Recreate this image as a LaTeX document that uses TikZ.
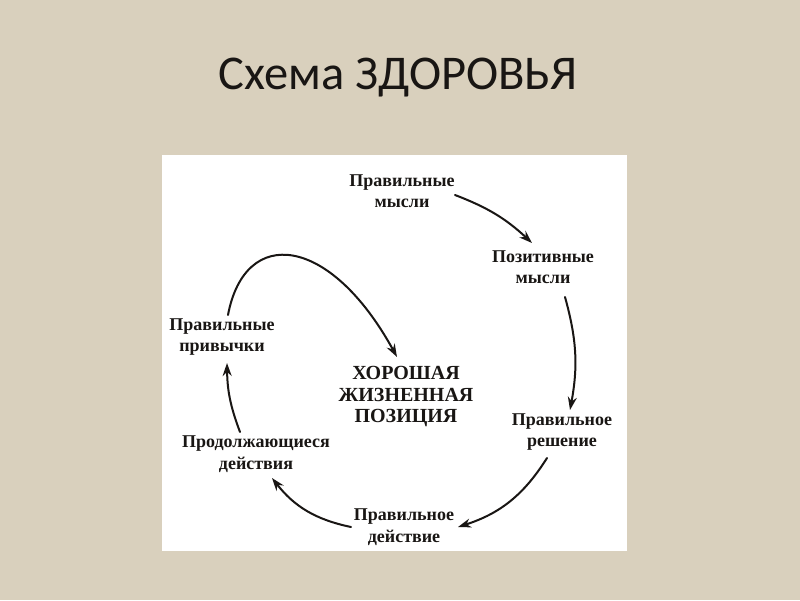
\documentclass[tikz,border=0pt]{standalone}
\usepackage{fontspec}
\setmainfont{Liberation Serif}
\newfontfamily\titlefont{Carlito}
\usetikzlibrary{arrows.meta}
\definecolor{canvas}{RGB}{217,208,189}
\definecolor{ink}{RGB}{25,22,20}

\tikzset{
  step label/.style={font=\bfseries\fontsize{18}{21.5}\selectfont, align=center, text=ink, inner sep=0pt},
  core label/.style={font=\bfseries\fontsize{20}{21.5}\selectfont, align=center, text=ink, inner sep=0pt},
  flow/.style={->, line width=2pt, draw=ink}
}

\begin{document}
\begin{tikzpicture}[line cap=round,line join=round,>={Stealth[length=13pt,width=9pt]},x=1pt,y=-1pt]
% page and panel
\fill [canvas] (0,0) rectangle (800,600);
\useasboundingbox (0,0) rectangle (800,600);
\fill [white] (162,155) rectangle (627,551);
\node [font=\titlefont\fontsize{48.5}{52}\selectfont, text=ink] (title) at (398,78) {Схема ЗДОРОВЬЯ};

% stages of the cycle
\node [step label] (pm) at (402,191) {Правильные\\мысли};
\node [step label] (pozm) at (543,267) {Позитивные\\мысли};
\node [step label] (prr) at (562,432) {Правильное\\решение};
\node [step label] (prd) at (404,527) {Правильное\\действие};
\node [step label] (pdd) at (256,454) {Продолжающиеся\\действия};
\node [step label] (pp) at (222,337) {Правильные\\привычки};
\node [core label] (hzp) at (406,397) {ХОРОШАЯ\\ЖИЗНЕННАЯ\\ПОЗИЦИЯ};

% arrows
\draw [flow] ([shift={(53,4)}]pm.center) to[bend left=11] ([shift={(-11,-24)}]pozm.center);
\draw [flow] ([shift={(22,30)}]pozm.center) to[bend left=13] ([shift={(8,-22)}]prr.center);
\draw [flow] ([shift={(-15,26)}]prr.center) to[bend left=20] ([shift={(54,0)}]prd.center);
\draw [flow] ([shift={(-53,0)}]prd.center) to[bend left=20] ([shift={(16,24)}]pdd.center);
\draw [flow] ([shift={(-16,-22)}]pdd.center) to[bend left=10] ([shift={(5,26)}]pp.center);
\draw [flow] ([shift={(6,-22)}]pp.center) .. controls +(17,-90) and +(-67,-122) .. ([shift={(-9,-40)}]hzp.center);
\end{tikzpicture}
\end{document}
